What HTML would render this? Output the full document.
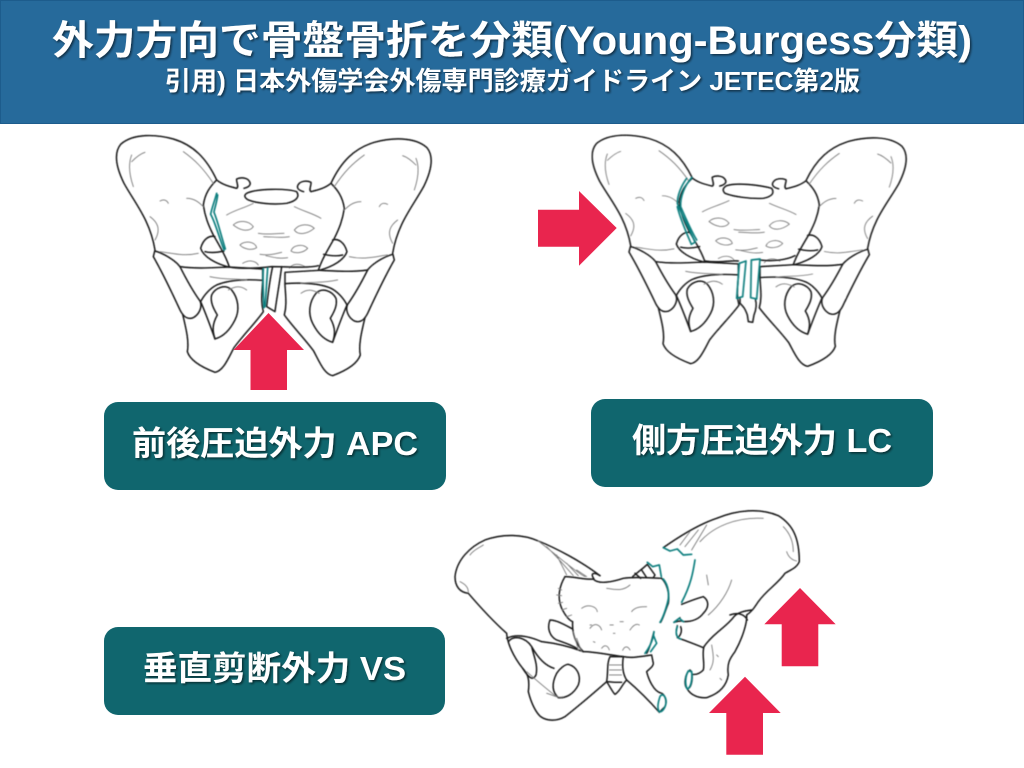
<!DOCTYPE html>
<html lang="ja">
<head>
<meta charset="utf-8">
<title>Young-Burgess分類</title>
<style>
html,body{margin:0;padding:0;background:#fff;width:1024px;height:768px;overflow:hidden}
svg{display:block}
text{font-family:"Liberation Sans","Noto Sans CJK JP",sans-serif;font-weight:700;fill:#fff}
.ln{fill:none;stroke:#151515;stroke-width:4.4;stroke-linejoin:round;stroke-linecap:round}
.th{fill:none;stroke:#777;stroke-width:2.6;stroke-linecap:round;stroke-linejoin:round}
.tl{fill:none;stroke:#0f7f7f;stroke-width:5;stroke-linejoin:round;stroke-linecap:round}
.ar{fill:#e9254e}
</style>
</head>
<body>
<svg width="1024" height="768" viewBox="0 0 1024 768" xmlns="http://www.w3.org/2000/svg">
<defs>
<filter id="s" x="-5%" y="-20%" width="110%" height="140%"><feDropShadow dx="1.5" dy="1.5" stdDeviation="1" flood-color="#000" flood-opacity=".55"/></filter>
<filter id="b" x="-5%" y="-5%" width="110%" height="110%"><feGaussianBlur stdDeviation=".45"/></filter>
<g id="half">
<path class="ln" d="M350,165 C320,100 280,60 220,42 C170,28 100,24 62,58 C40,85 50,130 72,175 C105,235 150,285 165,375 L160,395 C180,430 210,490 240,555 C250,575 262,585 280,578 C298,568 308,545 300,528 C280,500 255,455 240,425 C225,405 190,385 165,378"/>
<path class="ln" d="M248,568 C258,610 268,650 262,680 C270,705 300,725 345,742 C370,738 385,700 402,668 C430,630 465,595 490,560 C482,530 486,505 488,470 C488,450 488,440 488,432 L385,426 C345,415 310,395 302,370 C310,340 330,330 345,335"/>
<path class="ln" d="M240,425 C290,432 340,428 388,426"/>
<path class="ln" d="M302,530 C312,510 330,490 350,480 C385,465 430,462 488,466"/>
<path class="ln" d="M302,530 C315,560 330,600 345,642"/>
<path class="ln" d="M335,510 C345,490 375,475 395,495 C415,520 420,555 405,585 C390,615 370,635 345,642 C338,620 335,600 352,570 C340,550 330,530 335,510 Z"/>
<path class="ln" d="M350,165 C330,185 315,205 310,240 C315,275 325,300 340,330 C360,365 378,395 388,426"/>
<path class="ln" d="M315,380 C335,385 355,382 372,378"/>
<path class="th" d="M95,90 C85,115 88,150 100,185 M180,228 C192,222 200,225 205,235 M260,220 C285,220 300,235 310,245 M150,275 C170,290 185,310 165,345 M180,380 C220,385 250,395 295,385 M330,455 C375,465 410,460 440,465 M385,495 C405,485 420,480 440,495 M95,110 C110,95 125,85 135,82 M250,80 C285,105 310,130 340,175"/>
<path class="ln" d="M350,165 C368,180 390,185 410,190 C418,185 408,170 410,162 C425,155 440,160 445,165 C455,175 452,185 432,190"/>
<path class="th" d="M380,270 C405,255 430,250 460,235 M400,300 C415,285 445,285 460,305 C450,320 425,320 400,300 M475,325 C500,330 530,325 552,325 M420,360 C435,345 465,350 470,368 C455,378 430,372 420,360 M480,388 C505,392 520,388 545,382 M428,415 C445,405 465,405 475,420"/>
</g>
</defs>

<!-- header -->
<rect x="0" y="0" width="1024" height="124" fill="#266a9b"/>
<rect x=".5" y=".5" width="1023" height="123" fill="none" stroke="#1d5c8c"/>
<g filter="url(#s)">
<text x="52" y="54" font-size="40" textLength="920" lengthAdjust="spacingAndGlyphs">外力方向で骨盤骨折を分類(Young-Burgess分類)</text>
<text x="165" y="90" font-size="26" textLength="695" lengthAdjust="spacingAndGlyphs">引用) 日本外傷学会外傷専門診療ガイドライン JETEC第2版</text>
</g>

<!-- label boxes -->
<rect x="104" y="402" width="342" height="88" rx="14" fill="#10666e"/>
<rect x="591" y="399" width="342" height="88" rx="14" fill="#10666e"/>
<rect x="104" y="627" width="341" height="88" rx="14" fill="#10666e"/>
<g filter="url(#s)">
<text x="132" y="455" font-size="33.5" textLength="286" lengthAdjust="spacingAndGlyphs">前後圧迫外力 APC</text>
<text x="632" y="452" font-size="33.5" textLength="260" lengthAdjust="spacingAndGlyphs">側方圧迫外力 LC</text>
<text x="143" y="680" font-size="33.5" textLength="263" lengthAdjust="spacingAndGlyphs">垂直剪断外力 VS</text>
</g>

<g filter="url(#b)">
<!-- pelvis 1 -->
<g transform="translate(100,125) scale(.3333)">
<use href="#half"/>
<g transform="translate(1043,10) scale(-1,1)"><use href="#half"/></g>
<path class="ln" d="M440,205 C470,190 560,190 590,200 C600,215 590,228 560,235 C520,240 470,235 445,225 C432,218 432,210 440,205 Z"/>
<path class="ln" d="M388,426 C420,432 470,430 515,425 C560,425 620,430 655,422"/>
<path class="ln" d="M518,425 C510,460 505,500 500,545 L525,560 C530,520 538,480 545,425"/>
<path class="tl" d="M350,205 C345,225 335,250 332,268 C345,290 355,330 372,375 M353,210 C350,235 342,255 342,262 C352,285 360,320 376,372"/>
<path class="tl" d="M490,432 C488,470 490,510 492,548 M503,430 C500,470 498,510 495,545"/>
</g>

<!-- pelvis 2 -->
<g transform="translate(530,125) scale(.3333)">
<g transform="translate(137,0) scale(1,.965)"><use href="#half"/></g>
<g transform="translate(1178,8) scale(-1,.965)"><use href="#half"/></g>
<path class="ln" d="M590,182 C620,172 690,180 725,190 C735,205 725,215 700,220 C660,222 610,215 585,205 C575,195 580,188 590,182 Z"/>
<path class="ln" d="M525,408 C570,415 600,405 625,408 M690,405 C730,410 770,405 795,392"/>
<path class="ln" d="M630,520 L630,535 C640,545 645,550 652,570 L655,590 L668,592 L672,570 C680,550 680,535 676,522"/>
<path class="tl" d="M470,160 C455,180 442,210 442,235 C455,270 480,315 495,352 L484,358 C468,320 450,280 442,245 M485,158 C465,180 450,215 452,245 C465,275 485,320 500,345"/>
<path class="tl" d="M628,415 L648,408 L638,515 L620,520 Z M664,405 L690,402 L680,522 L662,518 Z"/>
</g>

<!-- pelvis 3 -->
<g transform="translate(450,505) scale(.3333)">
<path class="ln" d="M15,215 C20,165 60,125 105,105 C160,85 220,88 265,108 C320,130 395,170 450,212 M15,215 C15,245 30,262 55,265 C85,300 125,345 170,385 C172,415 190,455 218,490 C232,505 240,520 235,560 C245,600 260,625 272,635 C290,648 320,650 345,635 C390,600 430,565 470,530 C480,545 490,565 495,568 C510,560 515,540 530,525 C565,555 600,590 628,622 L645,605 C652,590 645,570 635,565 C610,560 595,520 590,500 C600,490 610,485 610,475 L605,450 C570,455 545,460 520,455 C480,450 430,440 400,440 C360,425 320,415 275,410 C240,395 200,385 170,400"/>
<path class="ln" d="M175,410 C190,390 225,395 245,425 C270,470 295,485 312,490 M218,490 C240,525 250,525 258,510 C265,480 250,450 245,425"/>
<path class="ln" d="M345,215 C375,215 405,225 430,222 C445,240 490,230 520,220 C545,215 600,218 635,220 M432,222 C420,205 430,200 450,212"/>
<path class="ln" d="M635,220 C650,235 660,265 655,295 C645,320 640,340 632,352 M612,380 C605,405 600,430 590,445"/>
<path class="ln" d="M345,215 C330,240 320,275 335,310 C345,330 355,345 368,350 M368,350 C365,395 385,425 400,440"/>
<path class="ln" d="M300,345 C290,370 300,395 320,405 C340,412 365,420 380,430 M300,345 C320,345 345,360 368,372"/>
<path class="ln" d="M355,478 C380,485 395,510 385,540 C370,570 345,580 325,578 C305,560 305,535 320,505 C330,490 345,478 355,478 Z"/>
<path class="ln" d="M470,530 C475,500 470,475 480,455 L520,455 C515,490 520,510 530,525 M470,530 L495,532 L515,532"/>
<path class="th" d="M265,108 C320,150 375,200 405,215 M290,125 C330,165 355,195 370,212 M320,150 L350,210 M350,175 L385,212 M380,195 L410,215 M100,120 C85,130 70,135 60,150 M30,230 C50,240 55,250 55,262 M230,500 C270,535 300,560 320,575 M290,565 C310,570 320,580 340,575 M380,400 L395,440 M370,380 L385,435 M478,480 L515,480 M478,495 L515,495 M478,510 L515,510 M395,310 C415,295 440,305 442,320 M545,320 C555,305 575,305 590,305 M420,370 C435,350 450,360 455,375 M540,375 C550,360 560,355 568,360 M455,430 C465,415 475,425 478,435 M518,436 C525,420 535,425 540,435 M430,410 L435,412 M420,360 L425,360 M490,385 L495,385 M480,360 L490,360 M510,350 L520,350 M325,250 L335,255 M320,270 L335,272 M325,295 L338,292 M335,315 L350,310 M350,335 L365,330 M470,250 C500,255 520,258 540,240"/>
<path class="ln" d="M548,215 C565,200 580,190 592,178 L615,210 L610,218 M555,205 L572,220 M575,195 L590,218"/>
<path class="tl" d="M592,172 L608,185 L628,180 L634,215 M640,222 C655,240 660,270 652,295 C645,320 638,340 630,352 M612,380 C610,405 600,425 585,445 M610,390 L620,415 L602,440"/>
<path class="tl" d="M628,620 C640,622 650,600 648,585 C645,570 635,565 630,575 C625,590 620,610 628,620 Z"/>

<path class="ln" d="M640,128 C680,100 740,60 800,40 C860,15 930,8 985,32 C1030,60 1048,100 1048,170 C1040,190 1020,195 1005,205 C985,235 950,255 925,290 C912,310 905,320 890,330 C892,350 880,395 855,440 C840,460 830,475 835,510 C830,540 810,565 770,578 C745,580 722,570 712,552 M905,315 C880,318 860,325 852,335 C830,365 790,385 762,425 C755,450 765,475 760,495 C750,505 740,510 728,508 M840,330 C865,320 885,330 892,345 M720,495 C705,505 700,540 712,552 C722,550 730,530 725,500 Z"/>
<path class="ln" d="M695,298 C715,290 740,280 760,275 C775,285 780,305 760,325 C745,345 725,350 702,350 C690,345 680,350 672,352 L690,338 M682,362 C675,385 680,400 692,402 C715,410 740,420 760,428 M692,365 C698,380 690,395 682,398"/>
<path class="th" d="M690,120 L720,80 M705,125 L745,75 M725,135 L770,60 M750,110 C790,65 860,35 940,40 M1010,140 C1015,155 1025,165 1040,168 M1000,65 C1020,85 1030,110 1030,140 M845,225 C835,260 810,300 775,330 M770,210 L775,240 M800,450 L805,455 M810,520 L815,525 M785,420 C790,450 795,470 780,495"/>
<path class="tl" d="M640,128 L660,138 L682,132 L700,150 L725,148 M735,165 C730,195 725,235 695,292"/>
<path class="tl" d="M672,352 L688,340 L700,350 M682,365 C675,385 680,398 692,402 M715,498 C705,515 705,540 712,552 C722,548 728,525 725,500 Z"/>
</g>
</g>

<!-- arrows -->
<polygon class="ar" points="268.5,313 304,350 287,350 287,390 250.5,390 250.5,350 233.5,350"/>
<polygon class="ar" points="616.7,228 579,265.7 579,246.7 538,246.7 538,209.7 579,209.7 579,191"/>
<polygon class="ar" points="800,588 835.7,624.3 818.3,624.3 818.3,666.3 781.7,666.3 781.7,624.3 764.3,624.3"/>
<polygon class="ar" points="745,676.7 780.7,713 763,713 763,754.7 726.3,754.7 726.3,713 709,713"/>
</svg>
</body>
</html>
